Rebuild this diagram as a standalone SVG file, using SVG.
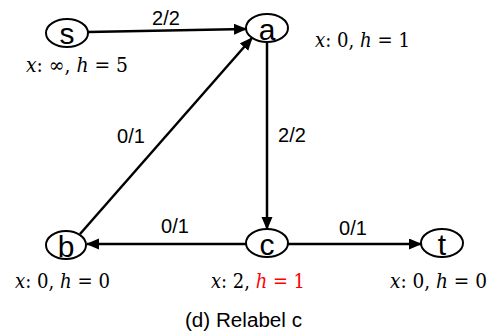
<svg xmlns="http://www.w3.org/2000/svg" width="498" height="334" viewBox="0 0 498 334">
<style>
.node ellipse{fill:#fff;stroke:#000;stroke-width:2}
.nl{font-family:"Liberation Sans",Arial,sans-serif;font-size:30px;text-anchor:middle;fill:#000}
.el{font-family:"Liberation Sans",Arial,sans-serif;font-size:20px;text-anchor:middle;fill:#000}
.m{font-family:"DejaVu Serif","Liberation Serif",serif;font-size:20px;fill:#000}
.i{font-style:italic}
.red{fill:#ff0000}
.cap{font-family:"Liberation Sans",Arial,sans-serif;font-size:20px;fill:#000}
#edges line{stroke:#000;stroke-width:2.5;marker-end:url(#ah)}
</style>
<defs>
<marker id="ah" markerUnits="userSpaceOnUse" markerWidth="14" markerHeight="12" refX="12" refY="5.5" orient="auto">
<path d="M0,0 L13,5.5 L0,11 z" fill="#000"/>
</marker>
</defs>
<g id="edges">
<line x1="88" y1="32" x2="246" y2="29"/>
<line x1="80" y1="234" x2="252" y2="38"/>
<line x1="267" y1="42" x2="267" y2="229"/>
<line x1="246" y1="244" x2="87" y2="244"/>
<line x1="288" y1="244" x2="421" y2="244"/>
<text class="el" x="166" y="25">2/2</text>
<text class="el" x="292" y="142">2/2</text>
<text class="el" x="131" y="143">0/1</text>
<text class="el" x="175" y="233">0/1</text>
<text class="el" x="353" y="235">0/1</text>
</g>
<g id="s" class="node"><ellipse cx="67" cy="33" rx="21" ry="14"/><text class="nl" x="67" y="44">s</text></g>
<g id="a" class="node"><ellipse cx="267" cy="28" rx="21" ry="14"/><text class="nl" x="267" y="40">a</text></g>
<g id="b" class="node"><ellipse cx="66" cy="245" rx="20" ry="14"/><text class="nl" x="66" y="257">b</text></g>
<g id="c" class="node"><ellipse cx="267" cy="243" rx="21" ry="14"/><text class="nl" x="267" y="255">c</text></g>
<g id="t" class="node"><ellipse cx="442" cy="243" rx="21" ry="14"/><text class="nl" x="442" y="255">t</text></g>
<g id="labels">
<text class="m" x="26" y="72" textLength="102" lengthAdjust="spacingAndGlyphs"><tspan class="i">x</tspan>: ∞, <tspan class="i">h</tspan> = 5</text>
<text class="m" x="315" y="47" textLength="95" lengthAdjust="spacingAndGlyphs"><tspan class="i">x</tspan>: 0, <tspan class="i">h</tspan> = 1</text>
<text class="m" x="15" y="288" textLength="95" lengthAdjust="spacingAndGlyphs"><tspan class="i">x</tspan>: 0, <tspan class="i">h</tspan> = 0</text>
<text class="m" x="211" y="288" textLength="94" lengthAdjust="spacingAndGlyphs"><tspan class="i">x</tspan>: 2, <tspan class="i red">h</tspan><tspan class="red"> = 1</tspan></text>
<text class="m" x="390" y="288" textLength="97" lengthAdjust="spacingAndGlyphs"><tspan class="i">x</tspan>: 0, <tspan class="i">h</tspan> = 0</text>
<text class="cap" x="185" y="327" textLength="117" lengthAdjust="spacingAndGlyphs">(d) Relabel c</text>
</g>
</svg>
